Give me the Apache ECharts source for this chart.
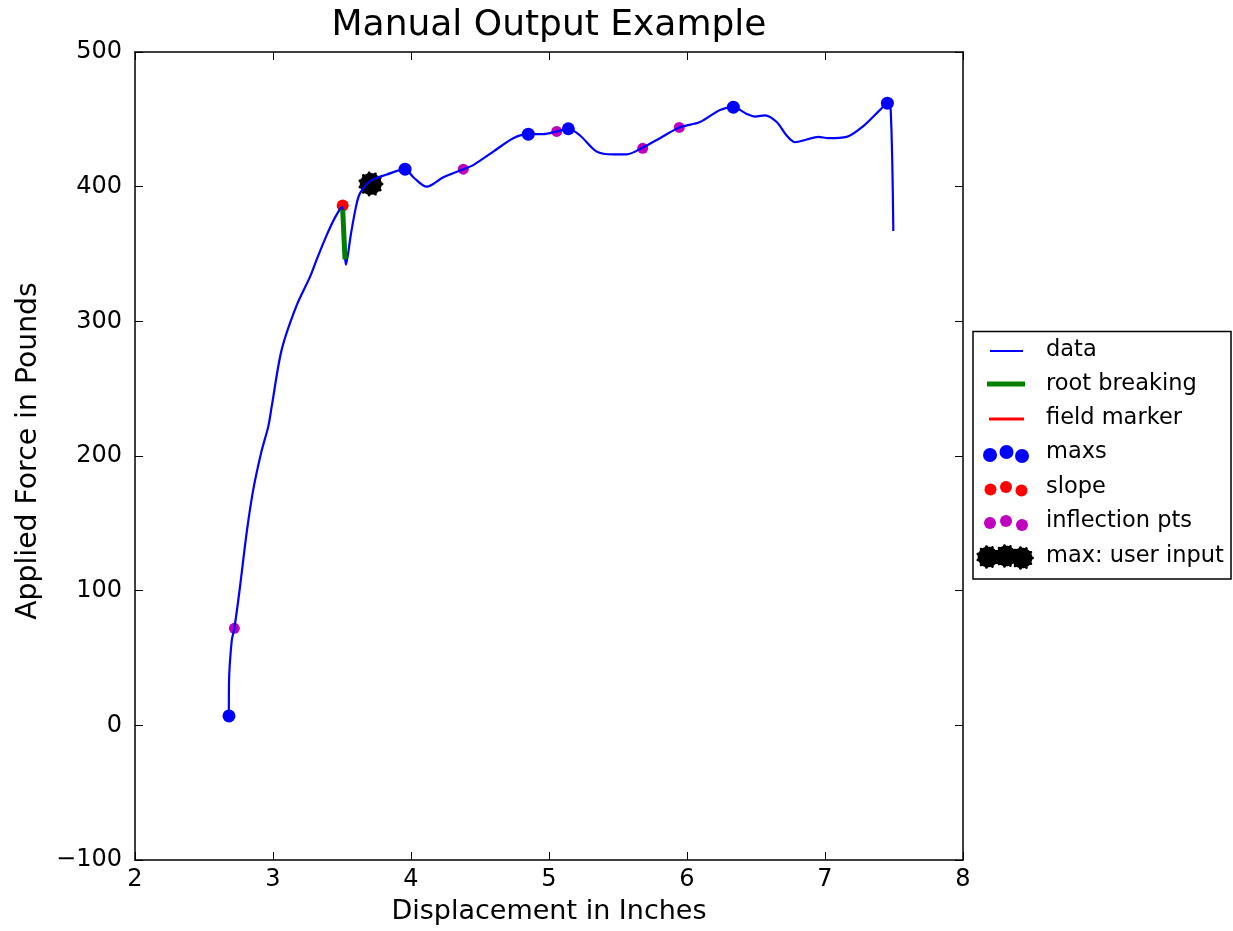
<!DOCTYPE html>
<html>
<head>
<meta charset="utf-8">
<title>Manual Output Example</title>
<script src="https://cdn.jsdelivr.net/npm/echarts@6/dist/echarts.min.js"></script>
<style>
  html, body { margin: 0; padding: 0; background: #fff; }
  #chart { width: 1233px; height: 931px; }
</style>
</head>
<body>
<div id="chart"></div>
<script>
// Displacement (in) and applied force (lb) along the pull trace
const dispIn = [2.680, 2.681, 2.701, 2.720, 2.761, 2.809, 2.857, 2.918, 2.966, 2.991,
                3.063, 3.172, 3.268, 3.317, 3.389, 3.449, 3.500, 3.529, 3.565, 3.601,
                3.630, 3.703, 3.824, 3.957, 4.017, 4.114, 4.234, 4.379, 4.451, 4.596,
                4.741, 4.850, 4.959, 5.056, 5.140, 5.225, 5.346, 5.466, 5.563, 5.679,
                5.804, 5.944, 6.094, 6.239, 6.336, 6.433, 6.493, 6.565, 6.650, 6.722,
                6.783, 6.867, 6.951, 7.024, 7.157, 7.278, 7.399, 7.452, 7.476, 7.495];
const forceLb = [7, 31, 63, 72, 103, 143, 175, 204, 222, 237,
                 279, 312, 333, 346, 364, 377, 385, 342, 365, 385,
                 395, 404, 409, 413, 407, 400, 407, 413, 416, 426,
                 436, 439, 439, 441, 443, 438, 426, 424, 424, 429,
                 436, 444, 448, 457, 459, 454, 452, 453, 448, 438,
                 433, 435, 437, 436, 437, 445, 457, 462, 457, 367];

// Local maxima
const maxsX = [2.681, 3.957, 4.850, 5.140, 6.336, 7.452];
const maxsY = [7, 413, 439, 443, 459, 462];
// Inflection points
const inflX = [2.720, 4.379, 5.056, 5.679, 5.944];
const inflY = [72, 413, 441, 428.5, 444];
// Slope point
const slopeX = [3.505];
const slopeY = [386];
// Root breaking segment
const rootX = [3.505, 3.522];
const rootY = [383, 346];
// Field marker
const fieldX = [3.505];
const fieldY = [386];
// Maximum picked by the user
const userMaxX = [3.710];
const userMaxY = [402];

// Axis ticks
const xTicks = { min: 2, max: 8, step: 1 };
const yTicks = { min: -100, max: 500, step: 100 };

const zip = (xs, ys) => xs.map((x, i) => [x, ys[i]]);

// Rounded gear outline used for the user-input marker
function gearPoints(r, teeth, depth, cx, cy) {
  const pts = [];
  const n = 120;
  for (let i = 0; i < n; i++) {
    const a = 2 * Math.PI * i / n;
    const rr = r * (1 - depth + depth * Math.pow(Math.max(0, Math.cos(teeth * a)), 0.6));
    pts.push([cx + rr * Math.cos(a), cy + rr * Math.sin(a)]);
  }
  return pts;
}
function gearSymbol() {
  const pts = gearPoints(50, 11, 0.14, 50, 50);
  return 'path://' + pts.map((p, i) => (i ? 'L' : 'M') + p[0].toFixed(2) + ',' + p[1].toFixed(2)).join('') + 'Z';
}

const FONT = 'DejaVu Sans';
const BLUE = '#0000ff', GREEN = '#008000', RED = '#ff0000', MAG = '#bf00bf';

const chart = echarts.init(document.getElementById('chart'), null, { renderer: 'canvas' });

const axisLine = { show: true, onZero: false, lineStyle: { color: '#000', width: 1.5 } };
const axisTick = { show: true, inside: true, length: 8, lineStyle: { color: '#000', width: 1 } };

// Legend block drawn to the right of the plot
const legendRows = [
  { y: 350, text: 'data' },
  { y: 384, text: 'root breaking' },
  { y: 418, text: 'field marker' },
  { y: 452, text: 'maxs' },
  { y: 487, text: 'slope' },
  { y: 521, text: 'inflection pts' },
  { y: 556, text: 'max: user input' }
];
const legendEls = [
  { type: 'rect', shape: { x: 973, y: 331.5, width: 258, height: 247.5 },
    style: { fill: '#fff', stroke: '#000', lineWidth: 1.5 }, z: 10 },
  { type: 'line', shape: { x1: 990, y1: 351, x2: 1023, y2: 351 }, style: { stroke: BLUE, lineWidth: 2 }, z: 11 },
  { type: 'line', shape: { x1: 987, y1: 384, x2: 1025, y2: 384 }, style: { stroke: GREEN, lineWidth: 5 }, z: 11 },
  { type: 'line', shape: { x1: 989, y1: 419, x2: 1024, y2: 419 }, style: { stroke: RED, lineWidth: 3 }, z: 11 }
];
[[990, 455], [1006.5, 452], [1022, 456]].forEach(c =>
  legendEls.push({ type: 'circle', shape: { cx: c[0], cy: c[1], r: 7 }, style: { fill: BLUE }, z: 11 }));
[[990.5, 489.5], [1006, 487], [1021.5, 490.5]].forEach(c =>
  legendEls.push({ type: 'circle', shape: { cx: c[0], cy: c[1], r: 6 }, style: { fill: RED }, z: 11 }));
[[990, 523], [1006, 521], [1022, 525]].forEach(c =>
  legendEls.push({ type: 'circle', shape: { cx: c[0], cy: c[1], r: 6 }, style: { fill: MAG }, z: 11 }));
[[988, 557], [1006, 556], [1022, 558]].forEach(c =>
  legendEls.push({ type: 'polygon', shape: { points: gearPoints(12, 11, 0.14, c[0], c[1]) }, style: { fill: '#000' }, z: 11 }));
legendRows.forEach(r =>
  legendEls.push({ type: 'text', x: 1046, y: r.y, z: 11,
    style: { text: r.text, font: '22.5px "' + FONT + '"', fill: '#000', textVerticalAlign: 'middle' } }));

const option = {
  backgroundColor: '#fff',
  animation: false,
  grid: { left: 135, right: 270, top: 52, bottom: 71, containLabel: false },
  xAxis: [
    {
      type: 'value', position: 'bottom', min: xTicks.min, max: xTicks.max, interval: xTicks.step,
      name: 'Displacement in Inches', nameLocation: 'middle', nameGap: 38,
      nameTextStyle: { fontFamily: FONT, fontSize: 27, color: '#000' },
      axisLine, axisTick,
      axisLabel: { fontFamily: FONT, fontSize: 24, color: '#000', margin: 8 },
      splitLine: { show: false }
    },
    {
      type: 'value', position: 'top', min: xTicks.min, max: xTicks.max, interval: xTicks.step,
      axisLine, axisTick, axisLabel: { show: false }, splitLine: { show: false }
    }
  ],
  yAxis: [
    {
      type: 'value', position: 'left', min: yTicks.min, max: yTicks.max, interval: yTicks.step,
      name: 'Applied Force in Pounds', nameLocation: 'middle', nameGap: 92, nameRotate: 90,
      nameTextStyle: { fontFamily: FONT, fontSize: 28.3, color: '#000', padding: [0, 0, 0, 10] },
      axisLine, axisTick,
      axisLabel: { fontFamily: FONT, fontSize: 24, color: '#000', margin: 13,
                   formatter: v => (v < 0 ? '\u2212' + Math.abs(v) : String(v)) },
      splitLine: { show: false }
    },
    {
      type: 'value', position: 'right', min: yTicks.min, max: yTicks.max, interval: yTicks.step,
      axisLine, axisTick, axisLabel: { show: false }, splitLine: { show: false }
    }
  ],
  graphic: [
    { type: 'text', x: 549, y: 26, z: 10,
      style: { text: 'Manual Output Example', font: '36px "' + FONT + '"', fill: '#000',
               textAlign: 'center', textVerticalAlign: 'middle' } }
  ].concat(legendEls),
  series: [
    {
      name: 'maxs', type: 'scatter', data: zip(maxsX, maxsY), symbol: 'circle', symbolSize: 13,
      itemStyle: { color: BLUE, opacity: 1 }, z: 1, silent: true
    },
    {
      name: 'slope', type: 'scatter', data: zip(slopeX, slopeY), symbol: 'circle', symbolSize: 12,
      itemStyle: { color: RED, opacity: 1 }, z: 1, silent: true
    },
    {
      name: 'inflection pts', type: 'scatter', data: zip(inflX, inflY), symbol: 'circle', symbolSize: 11,
      itemStyle: { color: MAG, opacity: 1 }, z: 1, silent: true
    },
    {
      name: 'max: user input', type: 'scatter', data: zip(userMaxX, userMaxY), symbol: gearSymbol(), symbolSize: 25,
      itemStyle: { color: '#000', opacity: 1 }, z: 1, silent: true
    },
    {
      name: 'data', type: 'line', data: zip(dispIn, forceLb), showSymbol: false, symbol: 'none',
      smooth: 0.3,
      lineStyle: { color: BLUE, width: 2.2 }, z: 3, silent: true
    },
    {
      name: 'root breaking', type: 'line', data: zip(rootX, rootY), showSymbol: false, symbol: 'none',
      lineStyle: { color: GREEN, width: 5 }, z: 4, silent: true
    },
    {
      name: 'field marker', type: 'line', data: zip(fieldX, fieldY), showSymbol: false, symbol: 'none',
      lineStyle: { color: RED, width: 3 }, z: 4, silent: true
    }
  ]
};

chart.setOption(option);
</script>
</body>
</html>
